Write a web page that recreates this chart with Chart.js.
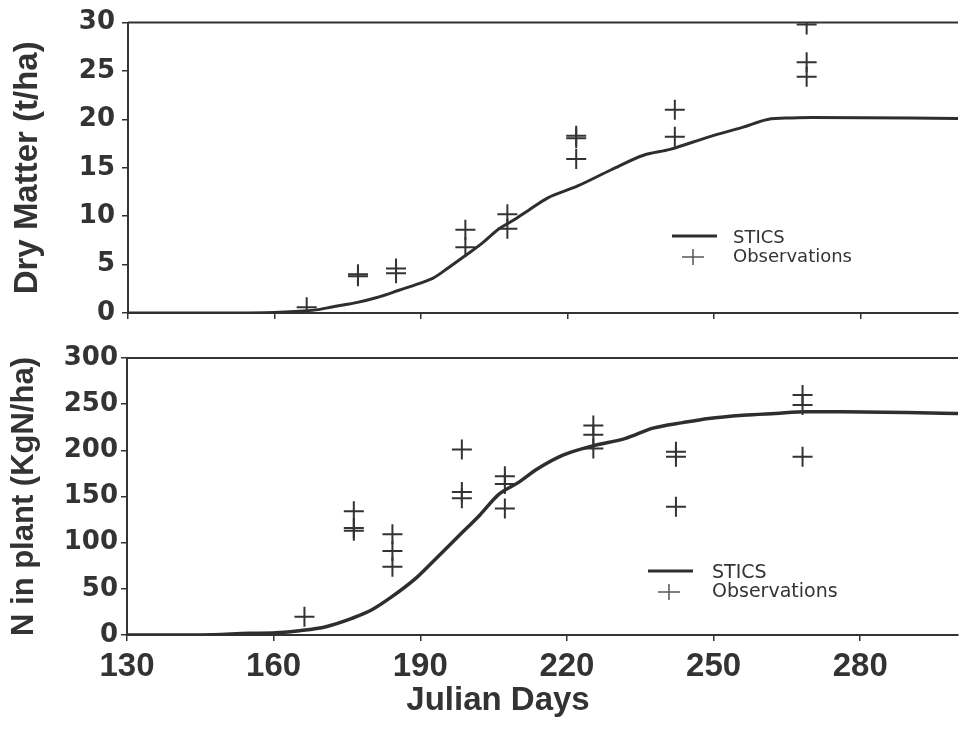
<!DOCTYPE html>
<html>
<head>
<meta charset="utf-8">
<script src="https://cdn.jsdelivr.net/npm/chart.js@4/dist/chart.umd.min.js"></script>
<style>
  html, body { margin: 0; padding: 0; background: #fff; overflow: hidden; }
  canvas { display: block; }
</style>
</head>
<body>
<canvas id="grafico-ms" width="970" height="338"></canvas>
<canvas id="grafico-n" width="970" height="391"></canvas>
<script>
// Eixo dos dias julianos
var diasTicks = [130, 160, 190, 220, 250, 280];

// Matéria seca - simulação STICS
var msDias = [130, 150, 160, 166, 169, 172, 177, 181, 185.5, 191, 192.5, 195.7, 199, 202.5, 206, 209, 212, 216, 222, 229, 235.6, 241, 249, 256, 261, 266, 270, 300];
var msStics = [0, 0, 0.05, 0.2, 0.35, 0.65, 1.1, 1.6, 2.35, 3.3, 3.6, 4.7, 5.9, 7.2, 8.7, 9.6, 10.6, 11.9, 13.1, 14.8, 16.3, 16.9, 18.2, 19.2, 20.0, 20.15, 20.2, 20.1];
// Matéria seca - observações
var msObsDias = [166.6, 177.1, 177.1, 184.9, 184.9, 199.1, 199.1, 207.7, 207.7, 221.8, 221.8, 221.8, 242, 242, 269, 269, 269];
var msObs = [0.6, 3.8, 4.0, 4.6, 4.1, 8.6, 6.8, 10.2, 8.7, 18.3, 18.05, 15.9, 21.0, 18.2, 29.8, 25.9, 24.4];
var msTicks = [0, 5, 10, 15, 20, 25, 30];

// N na planta - simulação STICS
var nDias = [130, 145, 155, 160.5, 165.3, 170.7, 176, 180, 184.2, 189, 192.3, 198, 202.2, 206, 210, 214, 219.3, 225.4, 232, 237.6, 243.7, 249, 256, 262.6, 269, 276, 300];
var nStics = [0, 0, 1.8, 2.5, 4.7, 9, 18, 27, 41.5, 61, 78, 108, 130, 152, 165, 180, 195, 205, 213, 224, 230, 234.5, 238, 240, 241.8, 241.8, 240];
// N na planta - observações
var nObsDias = [166.3, 176.4, 176.4, 176.4, 184.3, 184.3, 184.3, 198.5, 198.5, 198.5, 207.3, 207.3, 207.3, 225.4, 225.4, 225.4, 242.3, 242.3, 242.3, 268.2, 268.2, 268.2];
var nObs = [19.8, 134, 116, 113, 109, 91, 74, 201, 155, 148, 172, 163.5, 137, 227, 217, 202, 198.5, 193, 139, 260, 249, 193];
var nTicks = [0, 50, 100, 150, 200, 250, 300];

var cor = "#333";

function pontos(xs, ys) {
  return xs.map(function (x, i) { return { x: x, y: ys[i] }; });
}

function fixarTicks(lista) {
  return function (scale) {
    scale.ticks = lista.map(function (v) { return { value: v }; });
  };
}

// moldura superior, legenda e título do eixo x desenhados à mão
var molduraLegenda = {
  id: "molduraLegenda",
  afterDraw: function (chart, args, opts) {
    var c = chart.ctx, a = chart.chartArea;
    c.save();
    c.strokeStyle = cor;
    c.lineWidth = 2;
    c.beginPath();
    c.moveTo(a.left, a.top);
    c.lineTo(a.right, a.top);
    c.stroke();

    var l = opts.legenda;
    c.strokeStyle = "#2e2e2e";
    c.lineWidth = 3;
    c.beginPath();
    c.moveTo(l.x, l.y);
    c.lineTo(l.x + 45, l.y);
    c.stroke();
    c.lineWidth = 1.5;
    c.strokeStyle = "#555";
    c.beginPath();
    c.moveTo(l.x + 10, l.y + l.dy);
    c.lineTo(l.x + 32, l.y + l.dy);
    c.moveTo(l.x + 21, l.y + l.dy - 8);
    c.lineTo(l.x + 21, l.y + l.dy + 8);
    c.stroke();
    c.fillStyle = "#333";
    c.font = l.tam + "px 'DejaVu Sans'";
    c.textBaseline = "middle";
    c.fillText("STICS", l.x + l.tx, l.y + 2);
    c.fillText("Observations", l.x + l.tx, l.y + l.dy);

    if (opts.tituloX) {
      var t = opts.tituloX;
      c.font = "bold 33px 'Liberation Sans', Arial";
      c.textAlign = "center";
      c.fillText(t.texto, t.x, t.y);
    }
    c.restore();
  }
};

function eixoY(ticks, max, titulo, tamTitulo, padTitulo, padTick, largura) {
  return {
    type: "linear",
    min: 0,
    max: max,
    afterBuildTicks: fixarTicks(ticks),
    afterFit: function (scale) { scale.width = largura; },
    ticks: {
      color: cor,
      padding: padTick,
      font: { family: "'DejaVu Sans'", size: 26, weight: "bold" }
    },
    grid: { drawOnChartArea: false, drawTicks: true, tickLength: 6, color: cor, lineWidth: 1.5 },
    border: { display: true, color: cor, width: 2 },
    title: {
      display: true,
      text: titulo,
      color: cor,
      padding: { top: padTitulo, bottom: 0 },
      font: { family: "'Liberation Sans', Arial", size: tamTitulo, weight: "bold" }
    }
  };
}

// Gráfico de matéria seca
new Chart(document.getElementById("grafico-ms").getContext("2d"), {
  type: "scatter",
  data: {
    datasets: [
      {
        label: "STICS",
        data: pontos(msDias, msStics),
        showLine: true,
        borderColor: "#2e2e2e",
        borderWidth: 3,
        pointRadius: 0,
        cubicInterpolationMode: "monotone"
      },
      {
        label: "Observations",
        data: pontos(msObsDias, msObs),
        pointStyle: "cross",
        pointRadius: 10,
        borderColor: cor,
        borderWidth: 2,
        clip: { left: 0, top: 0, right: 0, bottom: 0 }
      }
    ]
  },
  options: {
    responsive: false,
    animation: false,
    devicePixelRatio: 1,
    layout: { padding: { top: 21, right: 5, left: 0, bottom: 0 } },
    plugins: {
      legend: { display: false },
      tooltip: { enabled: false },
      molduraLegenda: { legenda: { x: 672, y: 236, dy: 21, tx: 61, tam: 18 } }
    },
    scales: {
      x: {
        type: "linear",
        min: 130,
        max: 300,
        afterBuildTicks: fixarTicks(diasTicks),
        afterFit: function (scale) { scale.height = 25; },
        ticks: { display: false },
        grid: { drawOnChartArea: false, drawTicks: true, tickLength: 6, color: cor, lineWidth: 1.5 },
        border: { display: true, color: cor, width: 2 }
      },
      y: eixoY(msTicks, 30, "Dry Matter (t/ha)", 33, 8, 7, 128)
    }
  },
  plugins: [molduraLegenda]
});

// Gráfico de N na planta
new Chart(document.getElementById("grafico-n").getContext("2d"), {
  type: "scatter",
  data: {
    datasets: [
      {
        label: "STICS",
        data: pontos(nDias, nStics),
        showLine: true,
        borderColor: "#2e2e2e",
        borderWidth: 3.5,
        pointRadius: 0,
        cubicInterpolationMode: "monotone"
      },
      {
        label: "Observations",
        data: pontos(nObsDias, nObs),
        pointStyle: "cross",
        pointRadius: 10,
        borderColor: cor,
        borderWidth: 2,
        clip: { left: 0, top: 0, right: 0, bottom: 0 }
      }
    ]
  },
  options: {
    responsive: false,
    animation: false,
    devicePixelRatio: 1,
    layout: { padding: { top: 20, right: 5, left: 0, bottom: 0 } },
    plugins: {
      legend: { display: false },
      tooltip: { enabled: false },
      molduraLegenda: {
        legenda: { x: 648, y: 233, dy: 21, tx: 64, tam: 19 },
        tituloX: { texto: "Julian Days", x: 498, y: 363 }
      }
    },
    scales: {
      x: {
        type: "linear",
        min: 130,
        max: 300,
        afterBuildTicks: fixarTicks(diasTicks),
        afterFit: function (scale) { scale.height = 94; },
        ticks: {
          color: cor,
          padding: 6,
          maxRotation: 0,
          font: { family: "'Liberation Sans', Arial", size: 33, weight: "bold" }
        },
        grid: { drawOnChartArea: false, drawTicks: true, tickLength: 6, color: cor, lineWidth: 1.5 },
        border: { display: true, color: cor, width: 2 }
      },
      y: eixoY(nTicks, 300, "N in plant (KgN/ha)", 31, 6, 3, 127)
    }
  },
  plugins: [molduraLegenda]
});
</script>
</body>
</html>
